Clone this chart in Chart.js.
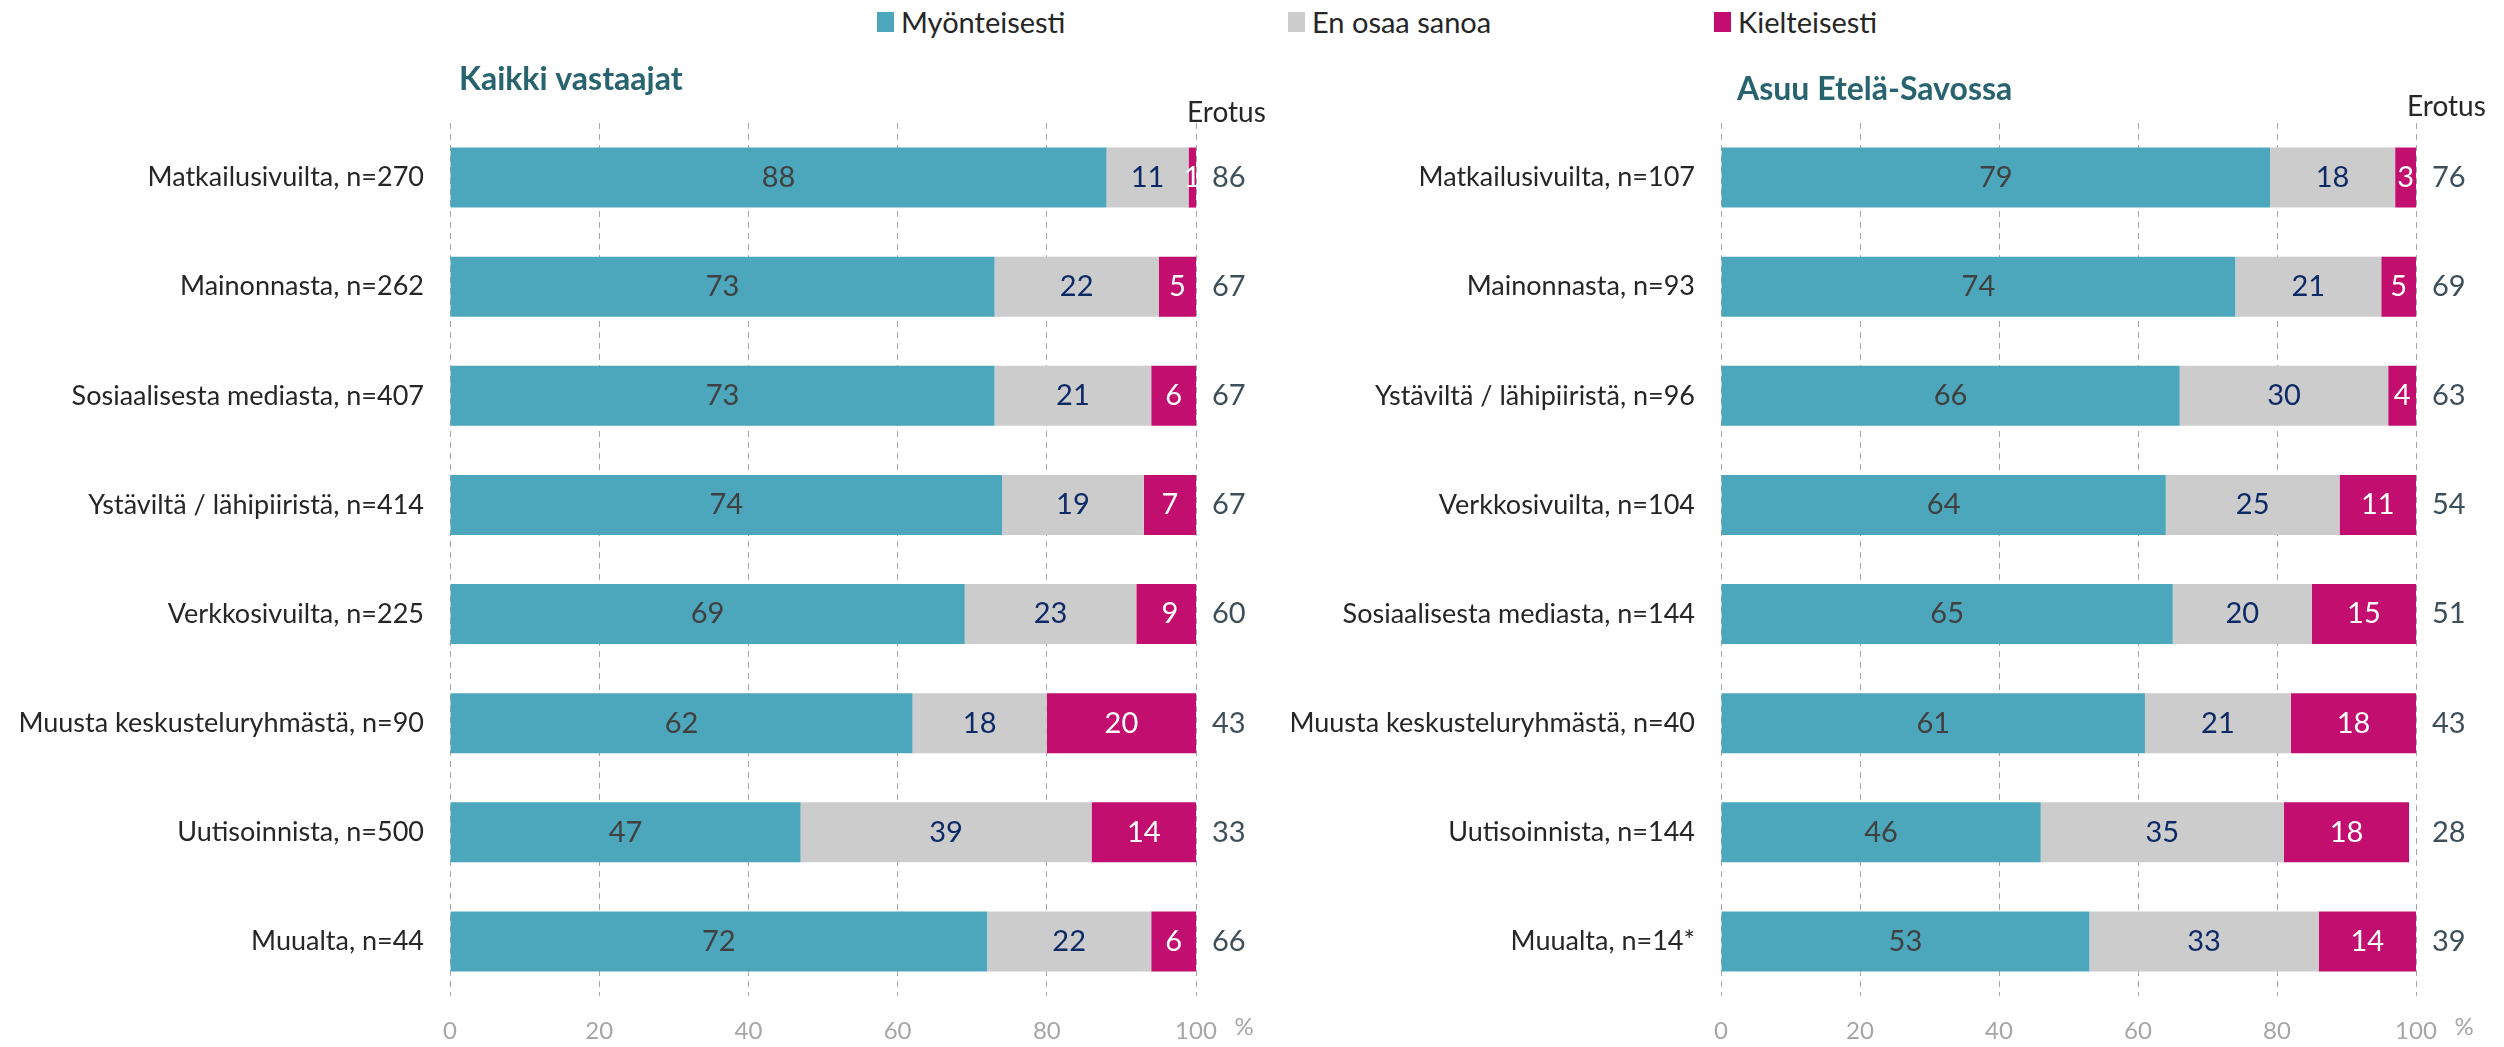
<!DOCTYPE html>
<html lang="fi">
<head>
<meta charset="utf-8">
<title>Mistä tieto on saatu</title>
<script src="https://cdn.jsdelivr.net/npm/chart.js@4.4.0/dist/chart.umd.min.js"></script>
<style>
  html, body { margin: 0; padding: 0; background: #fff; }
  body { width: 2504px; height: 1047px; position: relative; overflow: hidden; font-family: Lato, sans-serif; }
  .panel { position: absolute; top: 0; height: 1047px; }
  #panelAll { left: 0; width: 1290px; }
  #panelSavo { left: 1290px; width: 1214px; }
  #legend {
    position: absolute; left: 877px; top: 7px;
    display: grid; grid-template-columns: 411px 426px auto;
    font-size: 29px; color: #262626; line-height: 30px;
  }
  #legend .item { display: flex; align-items: center; }
  #legend .box { width: 17px; height: 20px; margin-right: 7px; }
</style>
</head>
<body>
<div id="legend"></div>
<div class="panel" id="panelAll"><canvas id="chartAll"></canvas></div>
<div class="panel" id="panelSavo"><canvas id="chartSavo"></canvas></div>

<script>
// series
const seriesLabels = ['Myönteisesti', 'En osaa sanoa', 'Kielteisesti'];
const seriesColors = ['#4ca7bd', '#cccccc', '#c20e6e'];
const valueColors = ['#404040', '#0c2a66', '#ffffff'];

// Kaikki vastaajat
const categoriesAll = [
  'Matkailusivuilta, n=270',
  'Mainonnasta, n=262',
  'Sosiaalisesta mediasta, n=407',
  'Ystäviltä / lähipiiristä, n=414',
  'Verkkosivuilta, n=225',
  'Muusta keskusteluryhmästä, n=90',
  'Uutisoinnista, n=500',
  'Muualta, n=44'
];
const positiveAll = [88, 73, 73, 74, 69, 62, 47, 72];
const neutralAll  = [11, 22, 21, 19, 23, 18, 39, 22];
const negativeAll = [1, 5, 6, 7, 9, 20, 14, 6];
const diffAll     = [86, 67, 67, 67, 60, 43, 33, 66];

// Asuu Etelä-Savossa
const categoriesSavo = [
  'Matkailusivuilta, n=107',
  'Mainonnasta, n=93',
  'Ystäviltä / lähipiiristä, n=96',
  'Verkkosivuilta, n=104',
  'Sosiaalisesta mediasta, n=144',
  'Muusta keskusteluryhmästä, n=40',
  'Uutisoinnista, n=144',
  'Muualta, n=14*'
];
const positiveSavo = [79, 74, 66, 64, 65, 61, 46, 53];
const neutralSavo  = [18, 21, 30, 25, 20, 21, 35, 33];
const negativeSavo = [3, 5, 4, 11, 15, 18, 18, 14];
const diffSavo     = [76, 69, 63, 54, 51, 43, 28, 39];

const axisMax = 100;
const axisStep = 20;

Chart.defaults.font.family = 'Lato, sans-serif';
Chart.defaults.animation = false;

// numbers inside each bar segment
const segmentValues = {
  id: 'segmentValues',
  afterDatasetsDraw(chart) {
    const ctx = chart.ctx;
    ctx.save();
    ctx.font = '29px Lato';
    ctx.textAlign = 'center';
    ctx.textBaseline = 'middle';
    chart.data.datasets.forEach((ds, di) => {
      ctx.fillStyle = ds.valueColor;
      chart.getDatasetMeta(di).data.forEach((bar, i) => {
        ctx.fillText(String(ds.data[i]), (bar.x + bar.base) / 2, bar.y);
      });
    });
    ctx.restore();
  }
};

// panel title, "Erotus" column and the % unit
function panelText(title, diff, titleDx, titleY, headerY) {
  return {
    id: 'panelText',
    afterDraw(chart) {
      const { ctx, chartArea: a, scales } = chart;
      ctx.save();
      ctx.textAlign = 'left';
      ctx.textBaseline = 'alphabetic';
      ctx.font = 'bold 32px Lato';
      ctx.fillStyle = '#28646f';
      ctx.fillText(title, a.left + titleDx, titleY);

      ctx.font = '28px Lato';
      ctx.fillStyle = '#262626';
      ctx.fillText('Erotus', a.right - 9, headerY);

      ctx.font = '29px Lato';
      ctx.fillStyle = '#3e4f59';
      ctx.textBaseline = 'middle';
      diff.forEach((v, i) => ctx.fillText(String(v), a.right + 16, scales.y.getPixelForValue(i)));

      ctx.font = '24px Lato';
      ctx.fillStyle = '#a6a6a6';
      ctx.textAlign = 'center';
      ctx.fillText('%', a.right + 48, scales.x.top + 31);
      ctx.restore();
    }
  };
}

function makePanel(canvasId, categories, pos, neu, neg, diff, title, axisWidth, padRight, titleDx, titleY, headerY) {
  const series = [pos, neu, neg];
  return new Chart(document.getElementById(canvasId), {
    type: 'bar',
    data: {
      labels: categories,
      datasets: series.map((values, k) => ({
        label: seriesLabels[k],
        data: values,
        backgroundColor: seriesColors[k],
        valueColor: valueColors[k],
        borderWidth: 0,
        barPercentage: 0.55,
        categoryPercentage: 1
      }))
    },
    options: {
      indexAxis: 'y',
      responsive: true,
      maintainAspectRatio: false,
      layout: { padding: { top: 123, right: padRight, bottom: 0, left: 0 } },
      plugins: {
        legend: { display: false },
        tooltip: { enabled: false }
      },
      scales: {
        x: {
          stacked: true,
          min: 0,
          max: axisMax,
          grid: { color: '#a6a6a6', lineWidth: 1, drawTicks: false },
          border: { display: false, dash: [6, 5] },
          ticks: { stepSize: axisStep, color: '#a6a6a6', font: { size: 24 }, padding: 21 },
          afterFit(scale) { scale.height = 51; }
        },
        y: {
          stacked: true,
          grid: { display: false, drawTicks: false },
          border: { display: false },
          ticks: { color: '#262626', font: { size: 27 }, padding: 26 },
          afterFit(scale) { scale.width = axisWidth; }
        }
      }
    },
    plugins: [segmentValues, panelText(title, diff, titleDx, titleY, headerY)]
  });
}

const chartAll = makePanel('chartAll', categoriesAll, positiveAll, neutralAll, negativeAll, diffAll,
  'Kaikki vastaajat', 450, 94, 9, 90, 122);
makePanel('chartSavo', categoriesSavo, positiveSavo, neutralSavo, negativeSavo, diffSavo,
  'Asuu Etelä-Savossa', 431, 88, 16, 100, 116);

// shared legend above both panels
const legend = document.getElementById('legend');
chartAll.data.datasets.forEach(ds => {
  const item = document.createElement('div');
  item.className = 'item';
  const box = document.createElement('span');
  box.className = 'box';
  box.style.background = ds.backgroundColor;
  const text = document.createElement('span');
  text.textContent = ds.label;
  item.append(box, text);
  legend.appendChild(item);
});
</script>
</body>
</html>
